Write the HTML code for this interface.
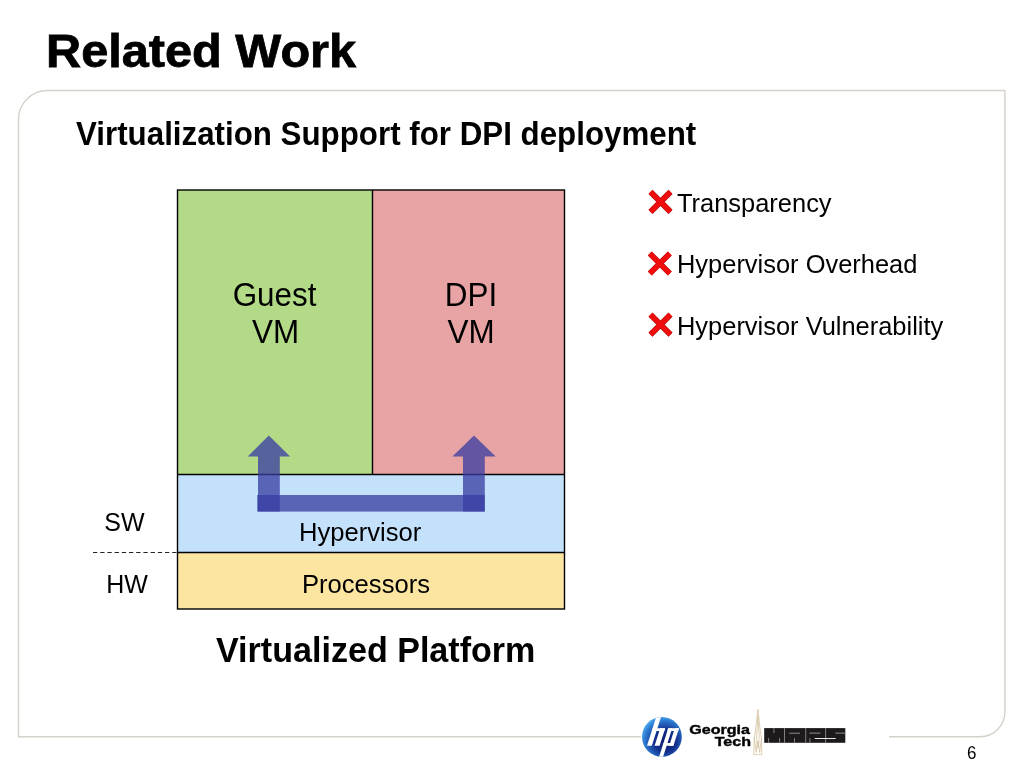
<!DOCTYPE html>
<html>
<head>
<meta charset="utf-8">
<style>
html,body{margin:0;padding:0;}
body{width:1024px;height:768px;position:relative;overflow:hidden;background:#ffffff;font-family:"Liberation Sans",sans-serif;color:#000;}
.t{position:absolute;white-space:nowrap;line-height:1;will-change:transform;}
.b{font-weight:bold;}
svg{position:absolute;left:0;top:0;}
</style>
</head>
<body>
<svg width="1024" height="768" viewBox="0 0 1024 768">
  <!-- frame -->
  <path d="M18.5 119.5 A29 29 0 0 1 47.5 90.5 L1004.9 90.5 L1004.9 712 A24.7 24.7 0 0 1 980.2 736.7 L18.5 736.7 Z" fill="none" stroke="#d5d1ca" stroke-width="1.4"/>
  <!-- diagram -->
  <rect x="177.5" y="190" width="194.5" height="284.5" fill="#b3da86"/>
  <rect x="372" y="190" width="192.5" height="284.5" fill="#e8a4a4"/>
  <rect x="177.5" y="474.5" width="387" height="78" fill="#c4e1fb"/>
  <rect x="177.5" y="552.5" width="387" height="56.5" fill="#fce4a1"/>
  <g stroke="#000" stroke-width="1.4" fill="none">
    <rect x="177.5" y="190" width="387" height="419"/>
    <line x1="372.5" y1="190" x2="372.5" y2="474.5"/>
    <line x1="177.5" y1="474.5" x2="564.5" y2="474.5"/>
    <line x1="177.5" y1="552.5" x2="564.5" y2="552.5"/>
  </g>
  <line x1="93" y1="552.5" x2="177" y2="552.5" stroke="#222" stroke-width="1.2" stroke-dasharray="4.3 2.9"/>
  <!-- arrows -->
  <g fill="#393ca2" fill-opacity="0.76">
    <path d="M268.8 435.5 L290.1 456.5 L279.8 456.5 L279.8 511.6 L258 511.6 L258 456.5 L247.7 456.5 Z"/>
    <path d="M474 435.5 L495.7 456.5 L484.8 456.5 L484.8 511.6 L463 511.6 L463 456.5 L452.4 456.5 Z"/>
    <rect x="257.2" y="495" width="227.6" height="16.6"/>
  </g>
  <!-- red X marks -->
  <g stroke="#b80808" stroke-width="5.8" stroke-linecap="butt"><path d="M650.50 191.90 L670.50 211.90 M670.50 191.90 L650.50 211.90"/><path d="M649.80 253.50 L669.80 273.50 M669.80 253.50 L649.80 273.50"/><path d="M650.50 314.60 L670.50 334.60 M670.50 314.60 L650.50 334.60"/></g>
  <g stroke="#f00d0d" stroke-width="4.6" stroke-linecap="butt"><path d="M650.50 191.90 L670.50 211.90 M670.50 191.90 L650.50 211.90"/><path d="M649.80 253.50 L669.80 273.50 M669.80 253.50 L649.80 273.50"/><path d="M650.50 314.60 L670.50 334.60 M670.50 314.60 L650.50 334.60"/></g>
  <!-- logo white backdrop -->
  <rect x="641" y="700" width="248" height="68" fill="#ffffff"/>
  <defs>
    <radialGradient id="hpg" cx="0.58" cy="0.6" r="0.62">
      <stop offset="0" stop-color="#0c1a6c"/>
      <stop offset="0.45" stop-color="#132f8c"/>
      <stop offset="0.8" stop-color="#2a74cc"/>
      <stop offset="1" stop-color="#48a6ec"/>
    </radialGradient>
    <clipPath id="hpc"><circle cx="661.9" cy="736.9" r="19.9"/></clipPath>
  </defs>
  <circle cx="661.9" cy="736.9" r="19.9" fill="url(#hpg)"/>
  <g clip-path="url(#hpc)">
    <g fill="#ffffff" transform="translate(0,745.8) skewX(-17.7) translate(0,-745.8)">
      <rect x="647.0" y="700" width="4.8" height="45.8"/>
      <rect x="647.0" y="728.2" width="12.6" height="2.8"/>
      <rect x="654.6" y="728.2" width="5.0" height="17.6"/>
      <rect x="662.6" y="728.2" width="4.0" height="40"/>
      <rect x="662.6" y="728.2" width="10.8" height="2.8"/>
      <rect x="669.2" y="728.2" width="4.2" height="17.6"/>
      <rect x="662.6" y="743.0" width="10.8" height="2.8"/>
    </g>
  </g>
  <!-- Georgia Tech spire -->
  <g fill="none" stroke="#d4c09c" stroke-width="0.75" stroke-linejoin="round">
    <path d="M757.9 709.3 L755.6 730 L754.2 738 L753.8 754.4 M757.9 709.3 L760.2 730 L761.5 738 L761.8 754.4"/>
    <path d="M754.2 737.5 L756.2 752.5 L757.9 741 L759.7 752.5 L761.5 737.5"/>
    <path d="M757.9 716 L756.6 736 L757.3 748 M757.9 716 L759.2 736 L758.5 748"/>
    <path d="M753.4 754.6 L762.2 754.6"/>
  </g>
  <!-- MARS -->
  <rect x="764.2" y="728.1" width="81.1" height="14.7" fill="#1c1a1a"/>
  <g fill="#8e8c8c">
    <rect x="784" y="728.1" width="0.9" height="14.7"/>
    <rect x="805.3" y="728.1" width="0.9" height="14.7"/>
    <rect x="825.2" y="728.1" width="0.9" height="14.7"/>
    <rect x="773.5" y="728.1" width="0.9" height="5"/>
    <rect x="768.2" y="738" width="0.9" height="4.8"/>
    <rect x="779.2" y="738" width="0.9" height="4.8"/>
    <rect x="789.3" y="732.7" width="10.7" height="1"/>
    <rect x="794" y="738" width="0.9" height="4.8"/>
    <rect x="809.4" y="732.6" width="11" height="1"/>
    <rect x="809.5" y="738" width="0.9" height="4.8"/>
  </g>
  <g fill="#ffffff">
    <rect x="814.7" y="738" width="21" height="0.9"/>
  </g>
  <g fill="#8e8c8c">
    <rect x="835.3" y="732.6" width="10" height="1"/>
  </g>
</svg>

<div class="t b" style="left:46px;top:27.7px;font-size:46px;-webkit-text-stroke:0.8px #000;transform:scaleX(1.058);transform-origin:0 0;">Related Work</div>
<div class="t b" style="left:76.4px;top:118.9px;font-size:31.3px;transform:scaleY(1.043);transform-origin:0 0.8465em;">Virtualization Support for DPI deployment</div>

<div class="t" style="left:176.7px;width:195px;text-align:center;top:277.3px;font-size:31.4px;line-height:37px;transform:scaleY(1.043);transform-origin:0 29.38px;">Guest</div>
<div class="t" style="left:178.2px;width:195px;text-align:center;top:314.3px;font-size:31.4px;line-height:37px;transform:scaleY(1.043);transform-origin:0 29.38px;">VM</div>
<div class="t" style="left:372.8px;width:196px;text-align:center;top:277.3px;font-size:31.4px;line-height:37px;transform:scaleY(1.043);transform-origin:0 29.38px;">DPI</div>
<div class="t" style="left:373px;width:196px;text-align:center;top:314.3px;font-size:31.4px;line-height:37px;transform:scaleY(1.043);transform-origin:0 29.38px;">VM</div>
<div class="t" style="left:298.5px;width:121px;text-align:center;top:519.8px;font-size:25.6px;transform:scaleY(1.043);transform-origin:0 0.8465em;">Hypervisor</div>
<div class="t" style="left:302px;width:126px;text-align:center;top:571.8px;font-size:25.6px;transform:scaleY(1.043);transform-origin:0 0.8465em;">Processors</div>
<div class="t" style="left:103.6px;width:41px;text-align:center;top:509.7px;font-size:25px;transform:scaleY(1.043);transform-origin:0 0.8465em;">SW</div>
<div class="t" style="left:106.4px;width:42px;text-align:center;top:572px;font-size:25px;transform:scaleY(1.043);transform-origin:0 0.8465em;">HW</div>

<div class="t" style="left:676.5px;top:191px;font-size:25.45px;transform:scaleY(1.043);transform-origin:0 0.8465em;">Transparency</div>
<div class="t" style="left:677.3px;top:252.4px;font-size:25.45px;transform:scaleY(1.043);transform-origin:0 0.8465em;">Hypervisor Overhead</div>
<div class="t" style="left:677.3px;top:314.3px;font-size:25.45px;transform:scaleY(1.043);transform-origin:0 0.8465em;">Hypervisor Vulnerability</div>

<div class="t b" style="left:215.5px;top:633px;font-size:34.1px;transform:scaleY(1.043);transform-origin:0 0.8465em;">Virtualized Platform</div>

<div class="t b" style="left:689px;top:724px;font-size:13.4px;line-height:12px;text-align:right;transform:scaleX(1.2);-webkit-text-stroke:0.4px #000;transform-origin:right top;width:61px;">Georgia</div>
<div class="t b" style="left:689.9px;top:736px;font-size:13.4px;line-height:12px;text-align:right;transform:scaleX(1.2);-webkit-text-stroke:0.4px #000;transform-origin:right top;width:61px;">Tech</div>
<div class="t" style="left:967px;top:745px;font-size:17px;transform:scaleY(1.043);transform-origin:0 0.8465em;">6</div>
</body>
</html>
